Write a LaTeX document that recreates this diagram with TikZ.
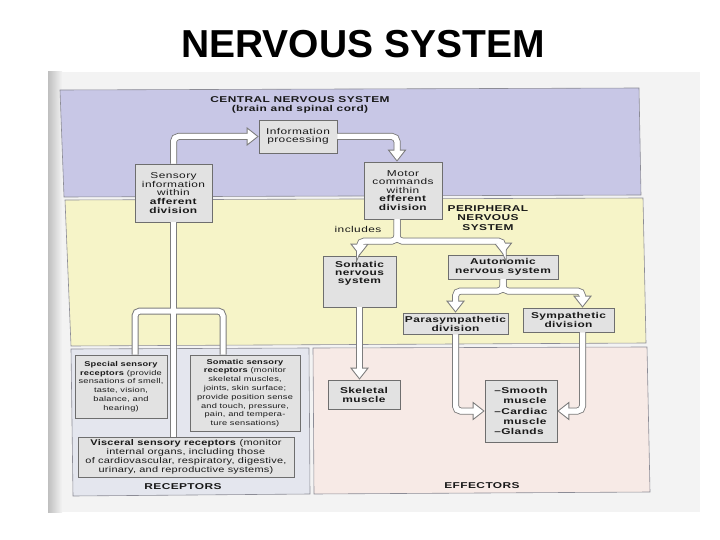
\documentclass[tikz,border=0pt]{standalone}
\usepackage{fontspec}
\setmainfont{Liberation Sans}
\newfontfamily\scan[FakeStretch=1.4,LetterSpace=5]{Liberation Sans}
\newfontfamily\scanr[FakeStretch=1.32,LetterSpace=3]{Liberation Sans}
\usetikzlibrary{arrows.meta}
\definecolor{pagec}{RGB}{243,243,243}
\definecolor{cnsc}{RGB}{200,199,230}
\definecolor{pnsc}{RGB}{246,244,200}
\definecolor{recc}{RGB}{228,230,238}
\definecolor{effc}{RGB}{247,234,230}
\definecolor{boxfill}{RGB}{226,226,226}
\definecolor{boxdraw}{RGB}{110,110,110}
\definecolor{bandline}{RGB}{140,140,150}
\definecolor{arrowgray}{RGB}{125,125,125}
\definecolor{textc}{RGB}{25,25,25}
\newcommand\tippaths[1]{%
  \draw[#1] (sens.north) |- (info.west);
  \draw[#1] (info.east) -| ([xshift=-6pt]motor.north);
  \draw[#1] ([xshift=-6pt]motor.south) -- (fk1) -| (soma.north);
  \draw[#1] ([xshift=-6pt]motor.south) -- (fk1) -| (auto.north);
  \draw[#1] (auto.south) -- (fk2) -| (para.north);
  \draw[#1] (auto.south) -- (fk2) -| ([xshift=14pt]symp.north);
  \draw[#1] (para.south) |- (smooth.west);
  \draw[#1] ([xshift=14pt]symp.south) |- (smooth.east);
  \draw[#1] (soma.south) -- (soma.south |- skel.north);
}
\newcommand\linepaths[1]{%
  \draw[#1] (special.north -| rl) |- (rr) -- (rr |- somsens.north);
  \draw[#1] (sens.south) -- (sens.south |- visc.north);
}
\begin{document}
\begin{tikzpicture}[x=1pt,y=-1pt,
  box/.style={draw=boxdraw, fill=boxfill, line width=0.6pt, inner sep=1pt,
    align=center, text=textc, font=\scan\fontsize{8.5}{8.6}\selectfont},
  rbox/.style={box, font=\scanr\fontsize{7}{8.8}\selectfont},
  hdr/.style={align=center, text=textc, inner sep=0pt,
    font=\scan\bfseries\fontsize{8.5}{9.2}\selectfont},
  band/.style={draw=bandline, line width=0.6pt},
  shaftout/.style={line width=7pt, draw=arrowgray, rounded corners=5pt},
  shaftin/.style={line width=5pt, draw=white, rounded corners=5pt}]
\useasboundingbox (0,0) rectangle (720,540);
\fill[white] (0,0) rectangle (720,540);
\node[font=\bfseries\fontsize{39}{40}\selectfont, inner sep=0pt] (title) at (363,44) {NERVOUS SYSTEM};
% scanned page
\fill[pagec] (48,72) rectangle (700,512);
\shade[left color=gray!50, right color=pagec] (48,72) rectangle (62,512);
% bands
\filldraw[band, fill=cnsc] (60,90) -- (639,88) -- (641,195) -- (64,197) -- cycle;
\filldraw[band, fill=pnsc] (65,200) -- (643,198) -- (646,343) -- (71,346) -- cycle;
\filldraw[band, fill=recc] (71,349) -- (309,348) -- (310,494) -- (73,496) -- cycle;
\filldraw[band, fill=effc] (313,348) -- (647,347) -- (650,492) -- (314,494) -- cycle;
% headers
\node[hdr] (cnsT) at (300,105) {CENTRAL NERVOUS SYSTEM\\(brain and spinal cord)};
\node[hdr] (pnsT) at (488,218) {PERIPHERAL\\NERVOUS\\SYSTEM};
\node[text=textc, inner sep=0pt, font=\scan\fontsize{8.5}{9}\selectfont] (inc) at (358,229) {includes};
\node[hdr] (recT) at (183,487) {RECEPTORS};
\node[hdr] (effT) at (482,486) {EFFECTORS};
% boxes
\node[box, minimum width=78pt, minimum height=33pt] (info) at (298,136.5) {Information\\processing};
\node[box, minimum width=77pt, minimum height=58pt] (sens) at (173.5,193) {Sensory\\information\\within\\\textbf{afferent}\\\textbf{division}};
\node[box, minimum width=78pt, minimum height=57pt] (motor) at (403,190.5) {Motor\\commands\\within\\\textbf{efferent}\\\textbf{division}};
\node[box, minimum width=73pt, minimum height=51pt] (soma) at (359.5,281.5) {};
\node[hdr, anchor=north, yshift=-5pt, font=\scan\bfseries\fontsize{8.5}{8.4}\selectfont] (somaT) at (soma.north) {Somatic\\nervous\\system};
\node[box, minimum width=110pt, minimum height=24pt, font=\scan\bfseries\fontsize{8.5}{9}\selectfont] (auto) at (503,267) {Autonomic\\nervous system};
\node[box, minimum width=105pt, minimum height=21pt, font=\scan\bfseries\fontsize{8.5}{9}\selectfont] (para) at (455.5,323.5) {Parasympathetic\\division};
\node[box, minimum width=91pt, minimum height=24pt, font=\scan\bfseries\fontsize{8.5}{9}\selectfont] (symp) at (568.5,320) {Sympathetic\\division};
\node[box, minimum width=72pt, minimum height=29pt, font=\scan\bfseries\fontsize{8.5}{9}\selectfont] (skel) at (364,394.5) {Skeletal\\muscle};
\node[box, minimum width=72pt, minimum height=62pt, align=left, font=\scan\bfseries\fontsize{8.5}{10.3}\selectfont] (smooth) at (521,411) {–Smooth\\\hspace*{9pt}muscle\\–Cardiac\\\hspace*{9pt}muscle\\–Glands};
\node[rbox, minimum width=92pt, minimum height=63pt] (special) at (121,386.5) {\textbf{Special sensory}\\\textbf{receptors} (provide\\sensations of smell,\\taste, vision,\\balance, and\\hearing)};
\node[rbox, minimum width=110pt, minimum height=76pt] (somsens) at (245,393) {\textbf{Somatic sensory}\\\textbf{receptors} (monitor\\skeletal muscles,\\joints, skin surface;\\provide position sense\\and touch, pressure,\\pain, and tempera-\\ture sensations)};
\node[rbox, minimum width=216pt, minimum height=40pt, font=\scanr\fontsize{8.3}{9.1}\selectfont] (visc) at (186,457) {\textbf{Visceral sensory receptors} (monitor\\internal organs, including those\\of cardiovascular, respiratory, digestive,\\urinary, and reproductive systems)};
% junction points
\coordinate (fk1) at (397,241);
\coordinate (fk2) at (503,291);
\coordinate (rl) at (135,311);
\coordinate (rr) at (223,311);
% fat arrows: outline pass, then white interior
\linepaths{shaftout}
\tippaths{shaftout, -{Triangle[length=12pt,width=18pt]}}
\linepaths{shaftin}
\tippaths{shaftin, shorten >=1.6pt, -{Triangle[length=9.4pt,width=13.8pt]}}
\tippaths{shaftin, shorten >=10pt}
\end{tikzpicture}
\end{document}
